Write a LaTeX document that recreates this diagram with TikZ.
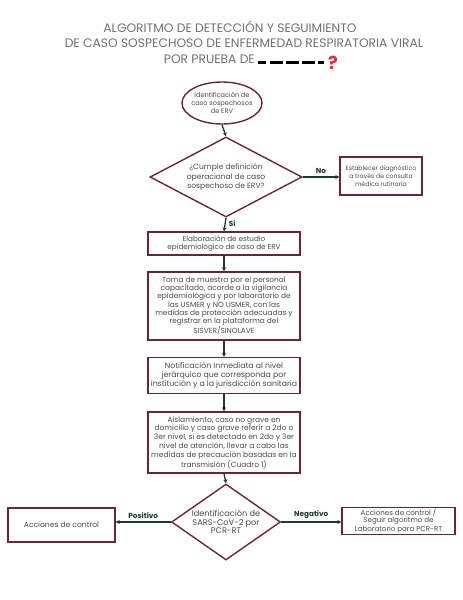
\documentclass[tikz,border=0pt]{standalone}
\usepackage{fontspec}
\setmainfont{Poppins}
\usetikzlibrary{shapes.geometric,arrows.meta}
\definecolor{maroon}{HTML}{6E2438}
\definecolor{arrowc}{HTML}{1E3A2E}
\definecolor{txt}{HTML}{4A4A4A}
\definecolor{ttl}{HTML}{707070}
\definecolor{qred}{HTML}{E0303A}
\tikzset{
  box/.style={draw=maroon, line width=1.4pt, rectangle, inner sep=0pt, align=center, text=txt},
  oval/.style={draw=maroon, line width=1.4pt, ellipse, inner sep=0pt},
  decision/.style={draw=maroon, line width=1.4pt, diamond, inner sep=0pt, align=center, text=txt},
  conn/.style={draw=arrowc, line width=1.3pt, -{Stealth[length=4pt,width=4pt]}},
  lbl/.style={font=\fontsize{7.3}{8}\selectfont\bfseries, text=arrowc, inner sep=1pt},
  ttlfont/.style={text=ttl, font=\fontsize{12.3}{14}\selectfont},
}
\begin{document}
\begin{tikzpicture}[x=1pt,y=-1pt]
\useasboundingbox (0,0) rectangle (463,600);
% title
\node[ttlfont] (t1) at (230,27) {ALGORITMO DE DETECCIÓN Y SEGUIMIENTO};
\node[ttlfont] (t2) at (244,43) {DE CASO SOSPECHOSO DE ENFERMEDAD RESPIRATORIA VIRAL};
\node[ttlfont, anchor=east, inner sep=0pt] (t3) at (255,59) {POR PRUEBA DE};
\fill[black] (258,60.5) rectangle (266,63.5);
\fill[black] (270,60.5) rectangle (283,63.5);
\fill[black] (286,60.5) rectangle (299,63.5);
\fill[black] (302,60.5) rectangle (315,63.5);
\fill[black] (318,60.5) rectangle (324,63.5);
\node[text=qred, font=\fontsize{18}{18}\selectfont\bfseries, inner sep=0pt] (q) at (333,63) {?};

% nodes
\node[oval, minimum width=80, minimum height=42] (start) at (222,103) {};
\node[align=center, text=txt, inner sep=0pt, font=\fontsize{6.6}{8.4}\selectfont] (starttext) at (start.center) {Identificación de\\caso sospechosos\\de ERV};
\node[decision, aspect=1.9, minimum width=152, minimum height=80, font=\fontsize{7.6}{9.6}\selectfont] (d1) at (226,177) {¿Cumple definición\\operacional de caso\\sospechoso de ERV?};
\node[box, minimum width=82, minimum height=38, font=\fontsize{6.2}{7.6}\selectfont] (r1) at (381,176) {Establecer diagnóstico\\a través de consulta\\médica rutinaria};
\node[box, minimum width=152, minimum height=23, font=\fontsize{7.2}{8.2}\selectfont] (b1) at (224,243.5) {Elaboración de estudio\\epidemiológico de caso de ERV};
\node[box, minimum width=152, minimum height=68, font=\fontsize{7.4}{8.3}\selectfont] (b2) at (224,306) {Toma de muestra por el personal\\capacitado, acorde a la vigilancia\\epidemiológica y por laboratorio de\\las USMER y NO USMER, con las\\medidas de protección adecuadas y\\registrar en la plataforma del\\SISVER/SINOLAVE};
\node[box, minimum width=152, minimum height=36, font=\fontsize{7.8}{9.2}\selectfont] (b3) at (224,375.5) {Notificación Inmediata al nivel\\jerárquico que corresponda por\\institución y a la jurisdicción sanitaria};
\node[box, minimum width=152, minimum height=61, font=\fontsize{7.5}{8.7}\selectfont] (b4) at (224,442.5) {Aislamiento, caso no grave en\\domicilio y caso grave referir a 2do o\\3er nivel, si es detectado en 2do y 3er\\nivel de atención, llevar a cabo las\\medidas de precaución basadas en la\\transmisión (Cuadro 1)};
\node[decision, aspect=1.4, minimum width=109, minimum height=76, font=\fontsize{8.2}{8.6}\selectfont] (d2) at (226,522) {Identificación de\\SARS-CoV-2 por\\PCR-RT};
\node[box, minimum width=107, minimum height=34, font=\fontsize{7.6}{8}\selectfont] (l2) at (61.5,525) {Acciones de control};
\node[box, minimum width=113, minimum height=27, font=\fontsize{7.1}{7.2}\selectfont] (r2) at (398.5,521) {Acciones de control /\\Seguir algoritmo de\\Laboratorio para PCR-RT};

% connectors
\draw[conn] (start.south) -- (d1.north);
\draw[conn] (d1.east) -- node[lbl, above=2pt] {No} (d1.east -| r1.west);
\draw[conn] (d1.south) -- node[lbl, right=2pt, pos=0.4] {Si} (b1.north);
\draw[conn] (b1.south) -- (b2.north);
\draw[conn] (b2.south) -- (b3.north);
\draw[conn] (b3.south) -- (b4.north);
\draw[conn] (b4.south) -- (d2.north);
\draw[conn] (d2.west) -- node[lbl, above=2pt] {Positivo} (d2.west -| l2.east);
\draw[conn] (d2.east) -- node[lbl, above=2pt] {Negativo} (d2.east -| r2.west);
\end{tikzpicture}
\end{document}
